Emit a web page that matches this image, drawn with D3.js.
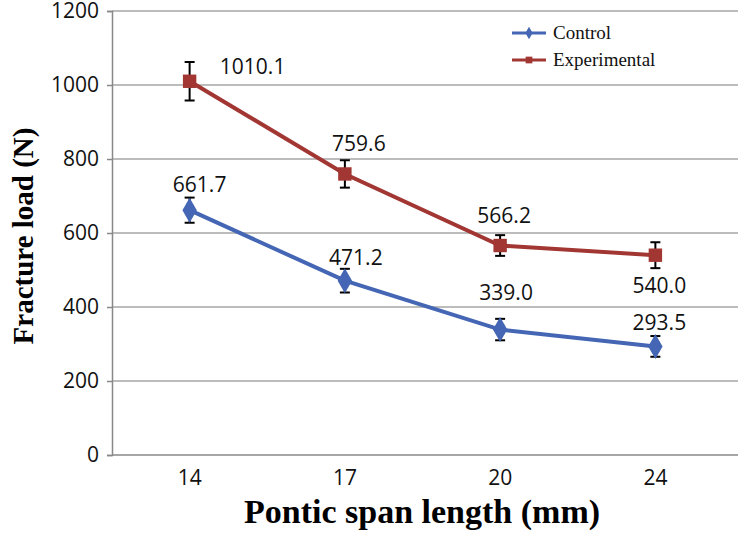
<!DOCTYPE html>
<html><head><meta charset="utf-8">
<script src="https://cdn.jsdelivr.net/npm/d3@7"></script>
<style>body{margin:0;background:#fff}svg{display:block}</style>
</head><body><svg id="c" width="738" height="534"></svg>
<script>
const categories = ["14","17","20","24"];
const controlValues = [661.7, 471.2, 339.0, 293.5];
const controlErrors = [34, 32, 29, 28];
const experimentalValues = [1010.1, 759.6, 566.2, 540.0];
const experimentalErrors = [52, 37, 28, 35];
const yTicks = [0, 200, 400, 600, 800, 1000, 1200];
const seriesNames = ["Control", "Experimental"];

const svg = d3.select("#c");
const L = 112, R = 733, T = 11, B = 455;
const x = d3.scaleBand().domain(categories).range([L, R]);
const cx = d => x(d) + x.bandwidth()/2;
const y = d3.scaleLinear().domain([0, 1200]).range([B, T]);

const sansFont = "'Open Sans', 'DejaVu Sans', sans-serif";
const serifFont = "'Liberation Serif', 'Times New Roman', serif";

// gridlines
svg.append("g").selectAll("line").data(yTicks.filter(t => t > 0)).join("line")
  .attr("x1", L).attr("x2", 738).attr("y1", d => y(d)).attr("y2", d => y(d))
  .attr("stroke", "#a6a6a6").attr("stroke-width", 1.5);

// y axis
const yAxis = d3.axisLeft(y).tickValues(yTicks).tickSize(5).tickPadding(8).tickFormat(d3.format("d"));
const gy = svg.append("g").attr("transform", `translate(${L},0)`).call(yAxis);
gy.select(".domain").attr("stroke", "#888").attr("stroke-width", 1.5);
gy.selectAll(".tick line").attr("stroke", "#888").attr("stroke-width", 1.5);
gy.selectAll("text").attr("font-family", sansFont).attr("font-size", 21).attr("fill", "#111");

// x axis
const xAxis = d3.axisBottom(x).tickSize(0).tickPadding(15);
const gx = svg.append("g").attr("transform", `translate(0,${B})`).call(xAxis);
gx.select(".domain").attr("d", `M${L},0H738`).attr("stroke", "#888").attr("stroke-width", 1.5);
gx.selectAll("text").attr("font-family", sansFont).attr("font-size", 21).attr("fill", "#111");

// axis titles
svg.append("text").attr("x", 422).attr("y", 523).attr("text-anchor", "middle")
  .attr("font-family", serifFont).attr("font-weight", "bold").attr("font-size", 34)
  .text("Pontic span length (mm)");
svg.append("text").attr("transform", "translate(33,236) rotate(-90)").attr("text-anchor", "middle")
  .attr("font-family", serifFont).attr("font-weight", "bold").attr("font-size", 29)
  .text("Fracture load (N)");

const colors = ["#4466b4", "#a13632"];
const series = [
  {name: seriesNames[0], values: controlValues, errors: controlErrors, color: colors[0], shape: d3.symbolDiamond},
  {name: seriesNames[1], values: experimentalValues, errors: experimentalErrors, color: colors[1], shape: d3.symbolSquare}
];
// label offsets (dx, dy) per series per point
const labelOffsets = [
  [[10,-18],[11,-16],[6,-30],[4,-16]],
  [[63,-7],[14,-23],[4,-23],[4,38]]
];

const line = d3.line().x((d,i) => cx(categories[i])).y(d => y(d));
series.forEach((s, si) => {
  const g = svg.append("g");
  g.append("path").attr("d", line(s.values)).attr("fill", "none")
    .attr("stroke", s.color).attr("stroke-width", 4);
  // error bars
  s.values.forEach((v, i) => {
    const px = cx(categories[i]);
    const e = s.errors[i];
    g.append("line").attr("x1", px).attr("x2", px).attr("y1", y(v+e)).attr("y2", y(v-e))
      .attr("stroke", "#000").attr("stroke-width", 2);
    [v+e, v-e].forEach(t => g.append("line").attr("x1", px-5).attr("x2", px+5)
      .attr("y1", y(t)).attr("y2", y(t)).attr("stroke", "#000").attr("stroke-width", 2));
  });
  g.selectAll("path.m").data(s.values).join("path").attr("class", "m")
    .attr("transform", (d,i) => `translate(${cx(categories[i])},${y(d)})`)
    .attr("d", d3.symbol().type(s.shape).size(si === 0 ? 180 : 180))
    .attr("fill", s.color);
  g.selectAll("text.l").data(s.values).join("text").attr("class", "l")
    .attr("x", (d,i) => cx(categories[i]) + labelOffsets[si][i][0])
    .attr("y", (d,i) => y(d) + labelOffsets[si][i][1])
    .attr("text-anchor", "middle").attr("font-family", sansFont).attr("font-size", 21).attr("fill", "#111")
    .text(d => d.toFixed(1));
});

// legend
const lg = svg.append("g");
series.forEach((s, i) => {
  const ly = 33 + i * 27;
  lg.append("line").attr("x1", 512).attr("x2", 546).attr("y1", ly).attr("y2", ly)
    .attr("stroke", s.color).attr("stroke-width", 3);
  lg.append("path").attr("transform", `translate(529,${ly})`)
    .attr("d", d3.symbol().type(s.shape).size(45)).attr("fill", s.color);
  lg.append("text").attr("x", 553).attr("y", ly + 6).attr("font-family", serifFont)
    .attr("font-size", 19).attr("fill", "#111").text(s.name);
});
</script></body></html>
